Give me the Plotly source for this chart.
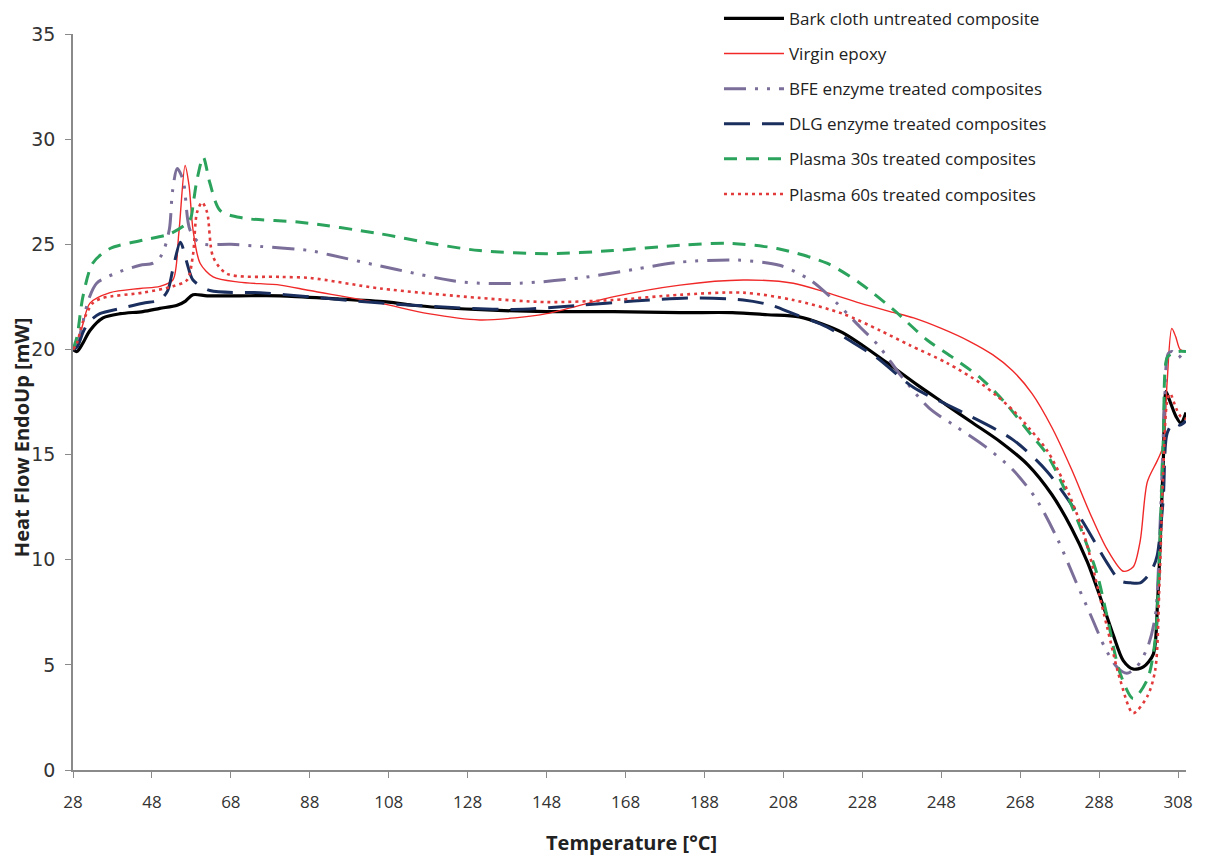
import plotly.graph_objects as go

# ---------------- data ----------------
x_ticks = [28, 48, 68, 88, 108, 128, 148, 168, 188, 208, 228, 248, 268, 288, 308]
y_ticks = [0, 5, 10, 15, 20, 25, 30, 35]

T_bark = [28, 29, 30.5, 32.3, 35.6, 40, 45.7, 50, 54.4, 56.5, 58.4, 62, 70, 80.5, 95, 108, 114, 130, 148, 165,
          181.8, 195, 204, 212, 218, 223, 228, 234, 242, 249, 256, 263, 270, 276, 281, 285, 288.5, 291.6,
          294.1, 296.6, 299.2, 301.7, 302.8, 303.6, 304.3, 304.9, 305.8, 307.5, 308.7, 310]
HF_bark = [20.0, 19.9, 20.3, 20.9, 21.5, 21.7, 21.8, 21.95, 22.1, 22.3, 22.6, 22.55, 22.55, 22.55, 22.4, 22.25,
           22.1, 21.9, 21.8, 21.8, 21.75, 21.75, 21.65, 21.55, 21.2, 20.8, 20.2, 19.4, 18.3, 17.4, 16.5, 15.6,
           14.5, 13.1, 11.5, 9.9, 8.1, 6.4, 5.2, 4.8, 4.9, 5.5, 8.0, 11.5, 15.0, 18.0, 17.6, 16.8, 16.5, 17.0]

T_epoxy = [28, 29, 30.5, 32.3, 37.4, 45, 50, 53.3, 54.8, 56.4, 57.4, 58.4, 60.2, 63.5, 70, 80.5, 88, 105.8, 118,
           131, 140, 148, 164.8, 181.8, 197.8, 210.5, 219, 227.4, 235, 241, 248, 255, 261, 266, 271, 276, 281,
           285.7, 290, 294.1, 296.6, 298.4, 300.2, 302.7, 304.2, 305.2, 306.4, 307.4, 308.5, 310]
HF_epoxy = [20.0, 20.2, 21.2, 22.2, 22.7, 22.9, 23.0, 23.3, 25.5, 28.75, 27.8, 25.7, 24.1, 23.45, 23.2, 23.06,
            22.8, 22.2, 21.7, 21.4, 21.5, 21.7, 22.5, 23.06, 23.3, 23.15, 22.7, 22.2, 21.8, 21.5, 21.0, 20.4,
            19.75, 19.0, 17.9, 16.3, 14.3, 12.2, 10.5, 9.45, 9.65, 10.9, 13.7, 14.7, 15.4, 18.4, 21.0, 20.6, 20.0, 19.9]

T_bfe = [28, 29, 30.5, 32, 34, 39.9, 45, 48.3, 50.5, 52.4, 53.2, 54.4, 55.9, 57.6, 60.2, 68, 75.4, 88, 93, 110,
         126.8, 141.3, 156.5, 170, 181.8, 196.3, 207, 214.8, 221, 227.4, 232, 238, 245, 252, 259, 266, 272,
         277.4, 282, 286, 289.5, 292.5, 295, 297.5, 300.2, 302.2, 303.5, 304.5, 305.5, 306.5, 308, 309.3, 310]
HF_bfe = [20.0, 20.2, 21.3, 22.4, 23.15, 23.7, 24.0, 24.1, 24.5, 25.7, 27.5, 28.6, 28.05, 25.7, 25.05, 25.0, 24.9,
          24.7, 24.5, 23.8, 23.2, 23.15, 23.4, 23.8, 24.15, 24.25, 24.0, 23.3, 22.3, 21.07, 20.2, 18.7, 17.2,
          16.3, 15.4, 14.3, 12.9, 11.0, 9.0, 7.3, 5.8, 4.9, 4.6, 4.9, 5.8, 7.3, 12.0, 17.0, 19.8, 19.9, 19.6, 19.8, 19.6]

T_dlg = [28, 29, 30.5, 32, 34.8, 40, 45.7, 50, 52, 53.3, 55.2, 56.9, 58.4, 62.7, 75.4, 88, 100, 114, 139.5, 156.5,
         170, 185, 197.8, 205, 210.5, 219, 225, 231.7, 240.9, 253.5, 266.2, 274.8, 283.2, 290, 293.3, 296, 298.4,
         300.2, 301.7, 302.7, 304.2, 305.2, 306.8, 308.5, 310]
HF_dlg = [20.0, 20.1, 20.8, 21.3, 21.7, 21.95, 22.2, 22.35, 22.8, 23.8, 25.1, 24.1, 23.3, 22.8, 22.7, 22.5, 22.3,
          22.1, 21.9, 22.1, 22.3, 22.45, 22.35, 22.1, 21.7, 21.07, 20.4, 19.6, 18.2, 17.0, 15.7, 14.2, 12.0, 9.85,
          9.0, 8.9, 8.9, 9.2, 9.65, 10.2, 12.8, 16.0, 16.5, 16.4, 16.6]

T_p30 = [28, 29, 30.5, 33, 37.4, 45.7, 52.6, 57.6, 58.5, 59.4, 61, 62.7, 65.3, 71, 85.5, 105.8, 120, 131, 148,
         164.8, 181.8, 193.7, 206.4, 219, 227.4, 235.8, 244.4, 251, 257.9, 264, 270.5, 274.8, 278.9, 283.2, 287.5,
         290, 293.3, 296.6, 300.2, 302.2, 303.4, 304.3, 305.2, 306.5, 308, 310]
HF_p30 = [20.0, 20.6, 22.5, 24.1, 24.8, 25.2, 25.5, 26.15, 27.0, 28.05, 29.15, 27.9, 26.6, 26.25, 26.05, 25.5,
          25.0, 24.7, 24.55, 24.7, 24.95, 25.05, 24.8, 24.1, 23.15, 21.9, 20.45, 19.6, 18.65, 17.5, 16.0, 15.0,
          13.5, 11.55, 9.3, 7.3, 4.6, 3.4, 4.3, 6.2, 11.0, 16.0, 19.6, 19.8, 19.9, 19.9]

T_p60 = [28, 29, 30.5, 33, 35.6, 45.7, 53.3, 56.9, 58.4, 59.4, 60.7, 62, 63.5, 67, 80.5, 88, 105.8, 131, 148,
         164.8, 181.8, 197.8, 210.5, 223, 232.5, 240, 249.5, 257.9, 262, 266.2, 270.5, 274.8, 279, 284, 290, 293.3,
         296.6, 300.2, 302.2, 303.3, 304.2, 305.2, 306, 307.5, 308.7, 310]
HF_p60 = [20.0, 20.3, 21.3, 22.2, 22.45, 22.7, 23.0, 23.3, 24.5, 26.5, 27.0, 26.5, 24.4, 23.6, 23.45, 23.4, 22.9,
          22.45, 22.25, 22.35, 22.6, 22.7, 22.35, 21.7, 20.9, 20.2, 19.35, 18.4, 17.8, 17.1, 16.2, 15.2, 13.7, 11.3,
          6.8, 4.3, 2.7, 3.5, 4.75, 9.0, 14.0, 17.5, 17.9, 17.2, 16.8, 16.7]

# ---------------- figure ----------------
series = [
    ("Bark cloth untreated composite", T_bark, HF_bark, dict(color="#000000", width=3.2, dash="solid")),
    ("Virgin epoxy", T_epoxy, HF_epoxy, dict(color="#F02828", width=1.4, dash="solid")),
    ("BFE enzyme treated composites", T_bfe, HF_bfe, dict(color="#7B6F9A", width=3, dash="22px,9px,3px,9px,3px,9px")),
    ("DLG enzyme treated composites", T_dlg, HF_dlg, dict(color="#1B2F5E", width=3, dash="26px,12px")),
    ("Plasma 30s treated composites", T_p30, HF_p30, dict(color="#2BA35C", width=3, dash="13px,9px")),
    ("Plasma 60s treated composites", T_p60, HF_p60, dict(color="#E23A3A", width=2.6, dash="3px,4px")),
]

fig = go.Figure()
for i, (name, xs, ys, line) in enumerate(series):
    fig.add_trace(go.Scatter(
        x=xs, y=ys, name=name, mode="lines",
        line=dict(shape="spline", smoothing=0.8, **line),
        legendgroup=f"g{i}",
    ))

axis_color = "#8A8A8A"
# the page body adds an 8px offset, so the figure is 8px smaller than the window
fig.update_layout(
    width=1203, height=853,
    margin=dict(l=65, r=25, t=26, b=91, autoexpand=False),
    paper_bgcolor="white", plot_bgcolor="white",
    showlegend=True,
    legend=dict(
        x=0.5804, y=1.045, xanchor="left", yanchor="top",
        font=dict(family="Open Sans, Lato, sans-serif", size=17, color="#222222"),
        itemwidth=60, traceorder="grouped", tracegroupgap=10,
        bgcolor="rgba(0,0,0,0)",
    ),
    xaxis=dict(
        range=[28, 310], tickmode="array", tickvals=x_ticks,
        ticktext=[str(v) for v in x_ticks], automargin=False,
        showgrid=False, zeroline=False,
        showline=True, linecolor=axis_color, linewidth=1.5,
        ticks="outside", ticklen=6, tickcolor=axis_color, tickwidth=1,
        tickfont=dict(family="Open Sans, Lato, sans-serif", size=17, color="#333333"),
        ticklabelstandoff=10,
    ),
    yaxis=dict(
        range=[0, 35], tickmode="array", tickvals=y_ticks,
        ticktext=[str(v) for v in y_ticks], automargin=False,
        showgrid=False, zeroline=False,
        showline=True, linecolor=axis_color, linewidth=1.5,
        ticks="outside", ticklen=6, tickcolor=axis_color, tickwidth=1,
        tickfont=dict(family="DejaVu Sans, Verdana, sans-serif", size=19, color="#333333"),
        ticklabelstandoff=6,
    ),
    annotations=[
        dict(text="<b>Temperature [°C]</b>", xref="paper", yref="paper", x=0.502, y=-0.099,
             xanchor="center", yanchor="middle", showarrow=False,
             font=dict(family="Open Sans, Lato, sans-serif", size=20, color="#222222")),
        dict(text="<b>Heat Flow EndoUp [mW]</b>", xref="paper", yref="paper", x=-0.046, y=0.452,
             xanchor="center", yanchor="middle", showarrow=False, textangle=-90,
             font=dict(family="Open Sans, Lato, sans-serif", size=20, color="#222222")),
    ],
)

fig.write_html("out.html")
